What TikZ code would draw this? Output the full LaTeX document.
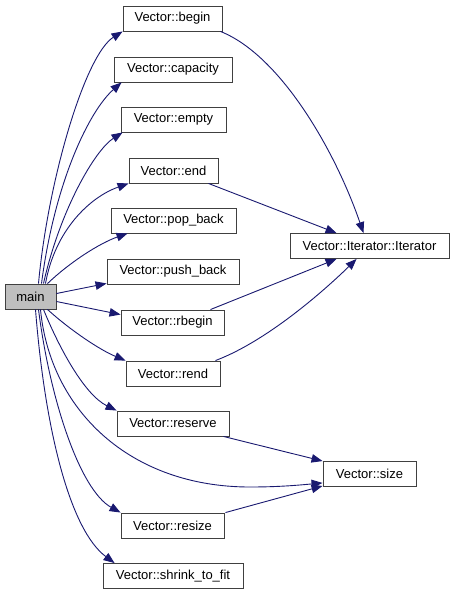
\documentclass[tikz,border=0pt]{standalone}
\usepackage{fontspec}
\setmainfont{Liberation Sans}
\usetikzlibrary{arrows.meta}
\definecolor{edgeblue}{HTML}{191970}
\definecolor{boxborder}{HTML}{404040}
\definecolor{mainfill}{HTML}{BFBFBF}
\begin{document}
\begin{tikzpicture}[x=1pt,y=-1pt,
  box/.style={draw=boxborder, line width=0.9pt, fill=white, minimum height=25pt, inner sep=0pt,
    font=\fontsize{13}{15}\selectfont, text=black},
  edge/.style={draw=edgeblue, line width=0.9pt, -{Triangle[length=11pt,width=8.5pt]}, color=edgeblue}]
\useasboundingbox (0,0) rectangle (455,595);
\node[box, fill=mainfill, minimum width=51] (main) at (30.5,296.5) {main};
\node[box, minimum width=99] (begin) at (172.5,18.5) {Vector::begin};
\node[box, minimum width=118] (capacity) at (173,69.5) {Vector::capacity};
\node[box, minimum width=105] (empty) at (173.5,119.5) {Vector::empty};
\node[box, minimum width=89] (end) at (173.5,170.5) {Vector::end};
\node[box, minimum width=125] (popback) at (173.5,220.5) {Vector::pop\_back};
\node[box, minimum width=132] (pushback) at (173,271.5) {Vector::push\_back};
\node[box, minimum width=103] (rbegin) at (172.5,322.5) {Vector::rbegin};
\node[box, minimum width=94] (rend) at (173,373.5) {Vector::rend};
\node[box, minimum width=112] (reserve) at (173,423.5) {Vector::reserve};
\node[box, minimum width=103] (resize) at (172.5,525.5) {Vector::resize};
\node[box, minimum width=140] (shrink) at (173,576) {Vector::shrink\_to\_fit};
\node[box, minimum width=159] (iter) at (369.5,246) {Vector::Iterator::Iterator};
\node[box, minimum width=93] (size) at (369.5,474) {Vector::size};
% edges from main
\draw[edge] ([xshift=8pt]main.north) .. controls (48,180) and (85,55) .. (begin.south west);
\draw[edge] ([xshift=11pt]main.north) .. controls (55,180) and (90,110) .. ([xshift=8pt]capacity.south west);
\draw[edge] ([xshift=13pt]main.north) .. controls (60,210) and (95,150) .. ([xshift=2pt]empty.south west);
\draw[edge] ([xshift=15pt]main.north) .. controls (55,230) and (90,197) .. (end.south west);
\draw[edge] ([xshift=17pt]main.north) .. controls (70,262) and (100,243) .. ([xshift=17pt]popback.south west);
\draw[edge] ([yshift=3pt]main.east) -- ([yshift=1pt]pushback.south west);
\draw[edge] ([yshift=-5pt]main.east) -- ([yshift=-5pt]rbegin.north west);
\draw[edge] ([xshift=17pt]main.south) .. controls (70,330) and (100,350) .. (rend.north west);
\draw[edge] ([xshift=13pt]main.south) .. controls (60,350) and (85,395) .. (reserve.north west);
\draw[edge] ([xshift=10pt]main.south) .. controls (50,410) and (130,487) .. (250,487)
  .. controls (280,487) and (300,485) .. ([yshift=4pt]size.south west);
\draw[edge] ([xshift=8pt]main.south) .. controls (50,400) and (80,490) .. (resize.north west);
\draw[edge] ([xshift=5pt]main.south) .. controls (45,430) and (70,530) .. ([xshift=12pt]shrink.north west);
% secondary edges
\draw[edge] ([xshift=-2pt]begin.south east) .. controls (280,55) and (335,150) .. ([xshift=-6pt]iter.north);
\draw[edge] ([xshift=-10pt]end.south east) -- ([xshift=47pt]iter.north west);
\draw[edge] ([xshift=-14pt]rbegin.north east) -- ([xshift=47pt]iter.south west);
\draw[edge] ([xshift=-5pt]rend.north east) .. controls (270,340) and (330,285) .. ([xshift=67pt]iter.south west);
\draw[edge] ([xshift=-6pt]reserve.south east) -- (size.north west);
\draw[edge] ([xshift=1pt]resize.north east) -- ([yshift=1pt]size.south west);
\end{tikzpicture}
\end{document}
